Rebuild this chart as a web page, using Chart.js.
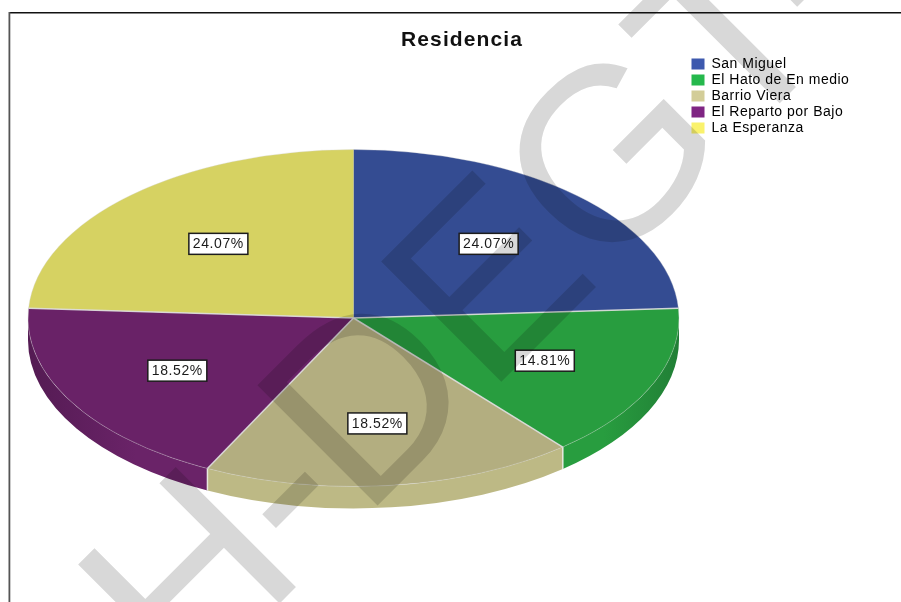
<!DOCTYPE html>
<html>
<head>
<meta charset="utf-8">
<style>html,body{margin:0;padding:0;background:#fff}canvas{display:block}</style>
<script src="https://cdn.jsdelivr.net/npm/chart.js@4/dist/chart.umd.min.js"></script>
</head>
<body>
<canvas id="c" width="901" height="602"></canvas>
<script>
const categories = ['San Miguel', 'El Hato de En medio', 'Barrio Viera', 'El Reparto por Bajo', 'La Esperanza'];
const percentages = [24.07, 14.81, 18.52, 18.52, 24.07];
const sliceColors = ['#344c92', '#289d3f', '#b3ae80', '#692267', '#d6d262'];
const legendColors = ['#3d59ae', '#25b84c', '#d3cd98', '#7f2583', '#faf26c'];
const rimColorsA = ['#344c92', '#217f36', '#bdb985', '#6a2368', '#d6d262'];
const rimColorsB = ['#344c92', '#289d3f', '#bdb985', '#541b53', '#d6d262'];
const rimStopsA = [0, 0, 0, 0.4, 0];
const rimStopsB = [1, 0.65, 1, 1, 1];
const labelRadii = [0.605, 0.64, 0.63, 0.625, 0.605];
const seamIndexes = [1, 2, 3, 4];
const titleText = 'Residencia';
const watermarkText = 'H-DEGT-';

const FONT = '"Liberation Sans", Arial, sans-serif';
const DEPTH = 22;

const placement = {
  id: 'placement',
  afterLayout(chart) {
    const a = {left: 28, right: 679, top: 149.5, bottom: 486.5};
    a.width = a.right - a.left;
    a.height = a.bottom - a.top;
    chart.chartArea = a;
    const t = chart.titleBlock;
    t.left = 362; t.right = 562; t.top = 28; t.bottom = 54;
    const l = chart.legend;
    const w = l.right - l.left, h = l.bottom - l.top;
    l.left = 689.5; l.right = 689.5 + w; l.top = 55; l.bottom = 55 + h;
    if (!t._spaced) {
      t._spaced = true;
      const dT = t.draw, dL = l.draw;
      t.draw = function () { const c = this.ctx; c.save(); c.letterSpacing = '1.1px'; dT.call(this); c.restore(); };
      l.draw = function () { const c = this.ctx; c.save(); c.letterSpacing = '0.5px'; dL.call(this); c.restore(); };
    }
  },
  beforeDraw(chart) {
    const c = chart.ctx;
    c.save();
    c.fillStyle = '#111';
    c.fillRect(9, 12, 892, 1.5);
    c.fillStyle = '#555';
    c.fillRect(8.5, 12, 1.8, 590);
    c.restore();
  },
  beforeDatasetsDraw(chart) {
    const c = chart.ctx, arcs = chart.getDatasetMeta(0).data;
    const cx = arcs[0].x, cy = arcs[0].y, ry = arcs[0].outerRadius;
    const rx = chart.chartArea.width / 2;
    arcs.forEach((arc, i) => {
      const a0 = Math.max(arc.startAngle, 0), a1 = Math.min(arc.endAngle, Math.PI);
      if (a1 <= a0) return;
      const x0 = cx + rx * Math.cos(a0), x1 = cx + rx * Math.cos(a1);
      const g = c.createLinearGradient(x0, 0, x1, 0);
      g.addColorStop(rimStopsA[i], rimColorsA[i]);
      g.addColorStop(rimStopsB[i], rimColorsB[i]);
      c.save();
      c.beginPath();
      c.ellipse(cx, cy, rx, ry, 0, a0, a1);
      c.ellipse(cx, cy + DEPTH, rx, ry, 0, a1, a0, true);
      c.closePath();
      c.fillStyle = g;
      c.fill();
      c.restore();
      if (a0 > 0) {
        const y0 = cy + ry * Math.sin(a0);
        c.save();
        c.strokeStyle = '#e8e8e0';
        c.lineWidth = 1.5;
        c.beginPath();
        c.moveTo(x0, y0);
        c.lineTo(x0, y0 + DEPTH);
        c.stroke();
        c.restore();
      }
    });
    c.save();
    c.translate(cx, cy);
    c.scale(rx / ry, 1);
    c.translate(-cx, -cy);
  },
  afterDatasetsDraw(chart) {
    const c = chart.ctx, arcs = chart.getDatasetMeta(0).data;
    c.restore();
    const rx = chart.chartArea.width / 2;
    const cx0 = arcs[0].x, cy0 = arcs[0].y, ry0 = arcs[0].outerRadius;
    c.save();
    c.beginPath();
    c.ellipse(cx0, cy0, rx, ry0, 0, 0, Math.PI * 2);
    c.strokeStyle = 'rgba(215,215,215,0.35)';
    c.lineWidth = 1;
    c.stroke();
    c.strokeStyle = 'rgba(222,222,222,0.9)';
    c.lineWidth = 1.5;
    seamIndexes.forEach(i => {
      const ang = arcs[i].startAngle;
      c.beginPath();
      c.moveTo(cx0, cy0);
      c.lineTo(cx0 + rx * Math.cos(ang), cy0 + ry0 * Math.sin(ang));
      c.stroke();
    });
    c.restore();
    arcs.forEach((arc, i) => {
      const mid = (arc.startAngle + arc.endAngle) / 2;
      const x = arc.x + rx * labelRadii[i] * Math.cos(mid);
      const y = arc.y + arc.outerRadius * labelRadii[i] * Math.sin(mid);
      c.save();
      c.fillStyle = '#fff';
      c.strokeStyle = '#1c1c1c';
      c.lineWidth = 1.5;
      c.fillRect(x - 29.5, y - 10.5, 59, 21);
      c.strokeRect(x - 29.5, y - 10.5, 59, 21);
      c.fillStyle = '#1a1a1a';
      c.font = '14px ' + FONT;
      c.letterSpacing = '0.6px';
      c.textAlign = 'center';
      c.textBaseline = 'middle';
      c.fillText(percentages[i].toFixed(2) + '%', x, y + 0.5);
      c.restore();
    });
  },
  afterDraw(chart) {
    const c = chart.ctx;
    c.save();
    c.globalCompositeOperation = 'multiply';
    c.translate(184, 699);
    c.rotate(-Math.PI / 4);
    c.fillStyle = '#d8d8d8';
    c.font = '247px ' + FONT;
    c.letterSpacing = '-3.5px';
    c.textBaseline = 'alphabetic';
    c.textAlign = 'left';
    c.fillText(watermarkText, 0, 0);
    c.restore();
  }
};

new Chart(document.getElementById('c'), {
  type: 'pie',
  data: {
    labels: categories,
    datasets: [{
      data: percentages,
      backgroundColor: sliceColors,
      borderWidth: 0,
      clip: false
    }]
  },
  options: {
    responsive: false,
    animation: false,
    devicePixelRatio: 1,
    plugins: {
      title: {
        display: true,
        text: titleText,
        color: '#111',
        padding: 0,
        font: {family: FONT, size: 21, weight: 'bold', lineHeight: 1.2}
      },
      legend: {
        display: true,
        position: 'right',
        align: 'start',
        labels: {
          boxWidth: 13,
          boxHeight: 11,
          padding: 2,
          color: '#1a1a1a',
          font: {family: FONT, size: 14},
          generateLabels: () => categories.map((t, i) => ({
            text: t, fillStyle: legendColors[i], strokeStyle: legendColors[i], lineWidth: 0, index: i, hidden: false
          }))
        }
      },
      tooltip: {enabled: false}
    }
  },
  plugins: [placement]
});
</script>
</body>
</html>
